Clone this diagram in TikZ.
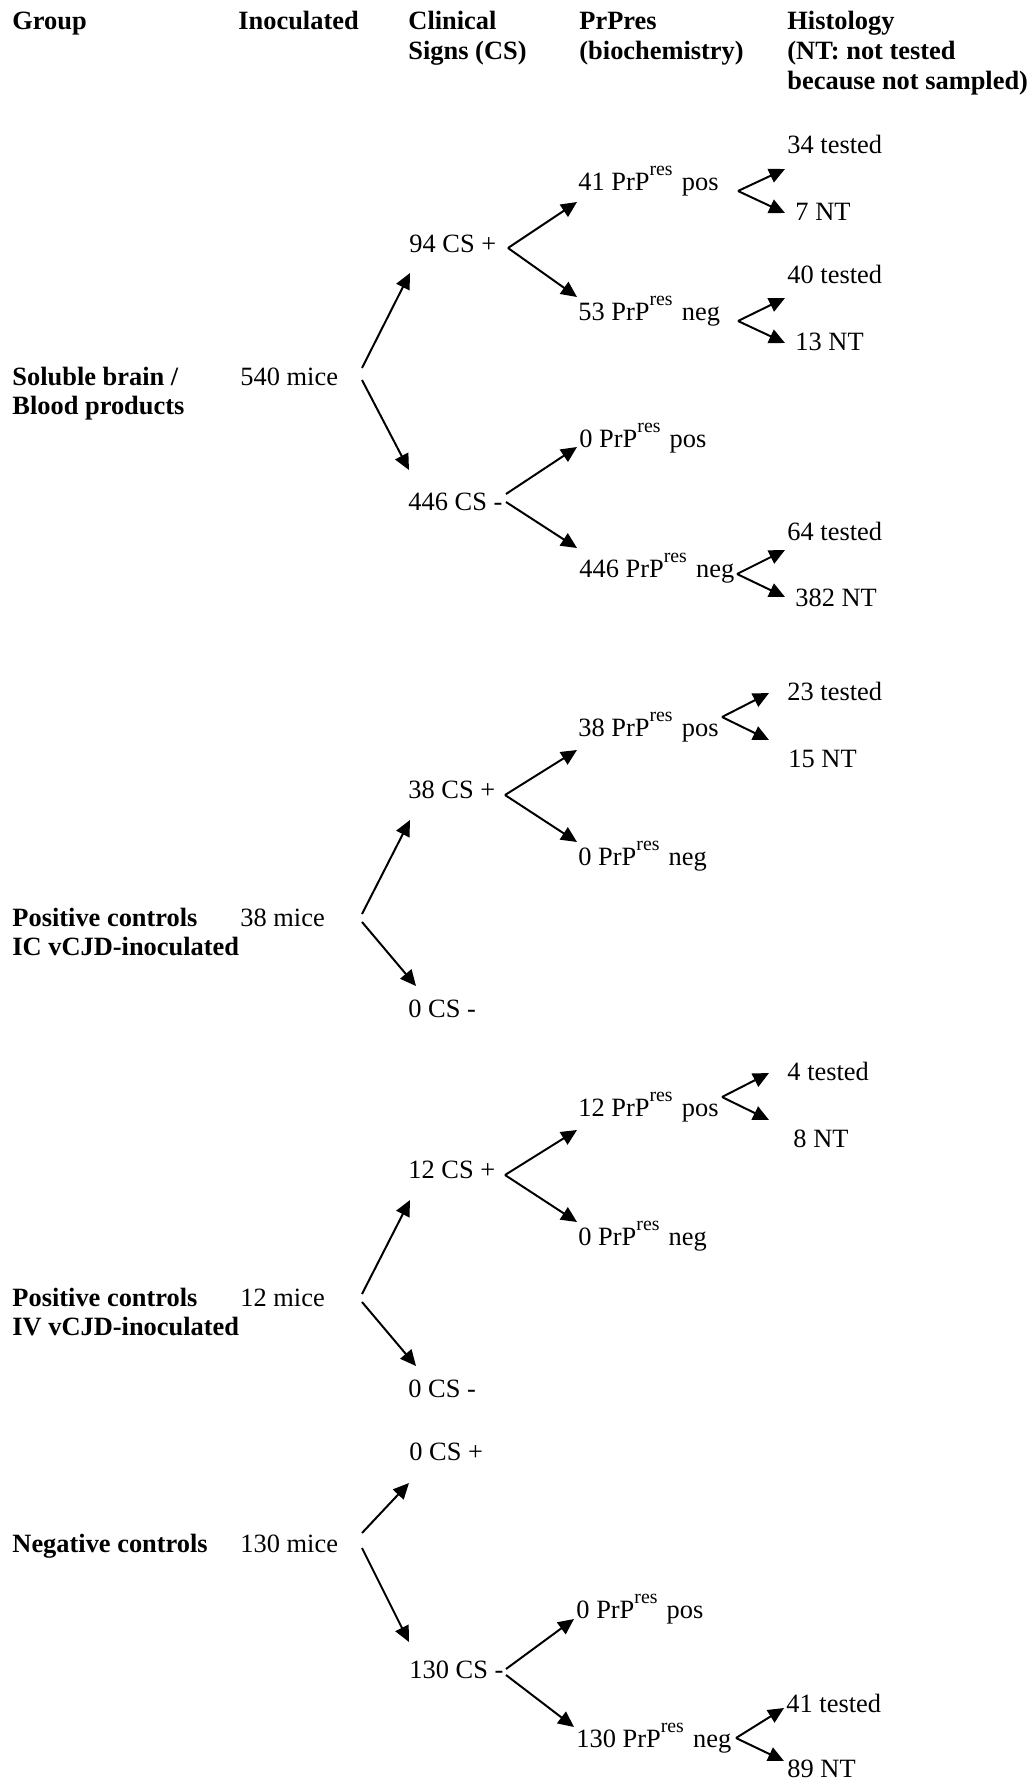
\documentclass[tikz,border=0pt]{standalone}
\usepackage{fontspec}
\setmainfont{Liberation Serif}
\usetikzlibrary{arrows.meta, positioning}

% stacked lines, baseline on the first line
\newcommand{\lines}[1]{\begin{tabular}[t]{@{}l@{}}#1\end{tabular}}
% raised "res" as in the source
\newcommand{\res}{\raisebox{6.5pt}{\fontsize{9}{9}\selectfont res}\hspace{1.2pt}\ }

\begin{document}
\begin{tikzpicture}[
    x=0.4545pt, y=-0.4545pt,
    txt/.style={inner sep=0pt, anchor=base west, font=\fontsize{12}{13.6}\selectfont},
    head/.style={txt, font=\fontsize{12}{13.6}\selectfont\bfseries},
    arr/.style={line width=0.9pt, -{Triangle[length=7.2pt, width=6.6pt]}},
    ]
\fill[white] (0,0) rectangle (1034,1782);
\useasboundingbox (0,0) rectangle (1034,1782);

% Column headers
\node[head] (hgrp) at (12,30) {Group};
\node[head] (hinoc) at (238,30) {Inoculated};
\node[head] (hcs) at (408,30) {\lines{Clinical\\Signs (CS)}};
\node[head] (hprp) at (579,30) {\lines{PrPres\\(biochemistry)}};
\node[head] (hhist) at (787,30) {\lines{Histology\\(NT: not tested\\because not sampled)}};

% Soluble brain / blood products
\node[head] (g1) at (12,385) {\lines{Soluble brain /\\Blood products}};
\node[txt] (m1) at (240,385) {540 mice};
\node[txt] (c1p) at (409,252) {94 CS +};
\node[txt] (c1n) at (408,510) {446 CS -};
\node[txt] (p1a) at (578,190) {41 PrP\res pos};
\node[txt] (p1b) at (578,320) {53 PrP\res neg};
\node[txt] (p1c) at (579,447) {0 PrP\res pos};
\node[txt] (p1d) at (579,577) {446 PrP\res neg};
\node[txt] (h1a) at (787,153) {34 tested};
\node[txt] (h1b) at (795,220) {7 NT};
\node[txt] (h1c) at (787,283) {40 tested};
\node[txt] (h1d) at (795,350) {13 NT};
\node[txt] (h1e) at (787,540) {64 tested};
\node[txt] (h1f) at (795,606) {382 NT};

\coordinate (k1) at (362,374);
\coordinate (k2) at (508,248);
\coordinate (k3) at (738,191);
\coordinate (k4) at (738,321);
\coordinate (k5) at (506,498);
\coordinate (k6) at (737,574);
\draw[arr] ([shift={(0,-6)}]k1) -- ([shift={(1,21)}]c1p.base west);
\draw[arr] ([shift={(0,6)}]k1) -- ([shift={(1,-40)}]c1n.base west);
\draw[arr] (k2) -- ([shift={(-1,12)}]p1a.base west);
\draw[arr] (k2) -- ([shift={(-1,-23)}]p1b.base west);
\draw[arr] (k3) -- ([shift={(-2,16)}]h1a.base west);
\draw[arr] (k3) -- ([shift={(-10,-7)}]h1b.base west);
\draw[arr] (k4) -- ([shift={(-2,15)}]h1c.base west);
\draw[arr] (k4) -- ([shift={(-10,-7)}]h1d.base west);
\draw[arr] ([shift={(0,-4)}]k5) -- ([shift={(-2,0)}]p1c.base west);
\draw[arr] ([shift={(0,4)}]k5) -- ([shift={(-2,-29)}]p1d.base west);
\draw[arr] (k6) -- ([shift={(-2,10)}]h1e.base west);
\draw[arr] (k6) -- ([shift={(-10,-9)}]h1f.base west);

% Positive controls IC
\node[head] (g2) at (12,926) {\lines{Positive controls\\IC vCJD-inoculated}};
\node[txt] (m2) at (240,926) {38 mice};
\node[txt] (c2p) at (408,798) {38 CS +};
\node[txt] (c2n) at (408,1017) {0 CS -};
\node[txt] (p2a) at (578,736) {38 PrP\res pos};
\node[txt] (p2b) at (578,865) {0 PrP\res neg};
\node[txt] (h2a) at (787,700) {23 tested};
\node[txt] (h2b) at (788,767) {15 NT};

\coordinate (k7) at (362,918);
\coordinate (k8) at (505,795);
\coordinate (k9) at (722,717);
\draw[arr] ([shift={(0,-4)}]k7) -- ([shift={(2,22)}]c2p.base west);
\draw[arr] ([shift={(0,4)}]k7) -- ([shift={(8,-31)}]c2n.base west);
\draw[arr] (k8) -- ([shift={(-1,14)}]p2a.base west);
\draw[arr] (k8) -- ([shift={(-1,-23)}]p2b.base west);
\draw[arr] (k9) -- ([shift={(-18,-7)}]h2a.base west);
\draw[arr] (k9) -- ([shift={(-19,-27)}]h2b.base west);

% Positive controls IV
\node[head] (g3) at (12,1306) {\lines{Positive controls\\IV vCJD-inoculated}};
\node[txt] (m3) at (240,1306) {12 mice};
\node[txt] (c3p) at (408,1178) {12 CS +};
\node[txt] (c3n) at (408,1397) {0 CS -};
\node[txt] (p3a) at (578,1116) {12 PrP\res pos};
\node[txt] (p3b) at (578,1245) {0 PrP\res neg};
\node[txt] (h3a) at (787,1080) {4 tested};
\node[txt] (h3b) at (793,1147) {8 NT};

\coordinate (k10) at (362,1298);
\coordinate (k11) at (505,1175);
\coordinate (k12) at (722,1097);
\draw[arr] ([shift={(0,-4)}]k10) -- ([shift={(2,22)}]c3p.base west);
\draw[arr] ([shift={(0,4)}]k10) -- ([shift={(8,-31)}]c3n.base west);
\draw[arr] (k11) -- ([shift={(-1,14)}]p3a.base west);
\draw[arr] (k11) -- ([shift={(-1,-23)}]p3b.base west);
\draw[arr] (k12) -- ([shift={(-18,-7)}]h3a.base west);
\draw[arr] (k12) -- ([shift={(-24,-27)}]h3b.base west);

% Negative controls
\node[head] (g4) at (12,1552) {Negative controls};
\node[txt] (m4) at (240,1552) {130 mice};
\node[txt] (c4p) at (409,1460) {0 CS +};
\node[txt] (c4n) at (409,1678) {130 CS -};
\node[txt] (p4a) at (576,1618) {0 PrP\res pos};
\node[txt] (p4b) at (576,1747) {130 PrP\res neg};
\node[txt] (h4a) at (786,1712) {41 tested};
\node[txt] (h4b) at (787,1777) {89 NT};

\coordinate (k13) at (362,1540);
\coordinate (k14) at (506,1672);
\coordinate (k15) at (736,1738);
\draw[arr] ([shift={(0,-7)}]k13) -- ([shift={(0,23)}]c4p.base west);
\draw[arr] ([shift={(0,8)}]k13) -- ([shift={(0,-36)}]c4n.base west);
\draw[arr] ([shift={(0,-3)}]k14) -- ([shift={(-2,1)}]p4a.base west);
\draw[arr] ([shift={(0,3)}]k14) -- ([shift={(-2,-20)}]p4b.base west);
\draw[arr] (k15) -- ([shift={(-2,-4)}]h4a.base west);
\draw[arr] (k15) -- ([shift={(-3,-16)}]h4b.base west);

\end{tikzpicture}
\end{document}
